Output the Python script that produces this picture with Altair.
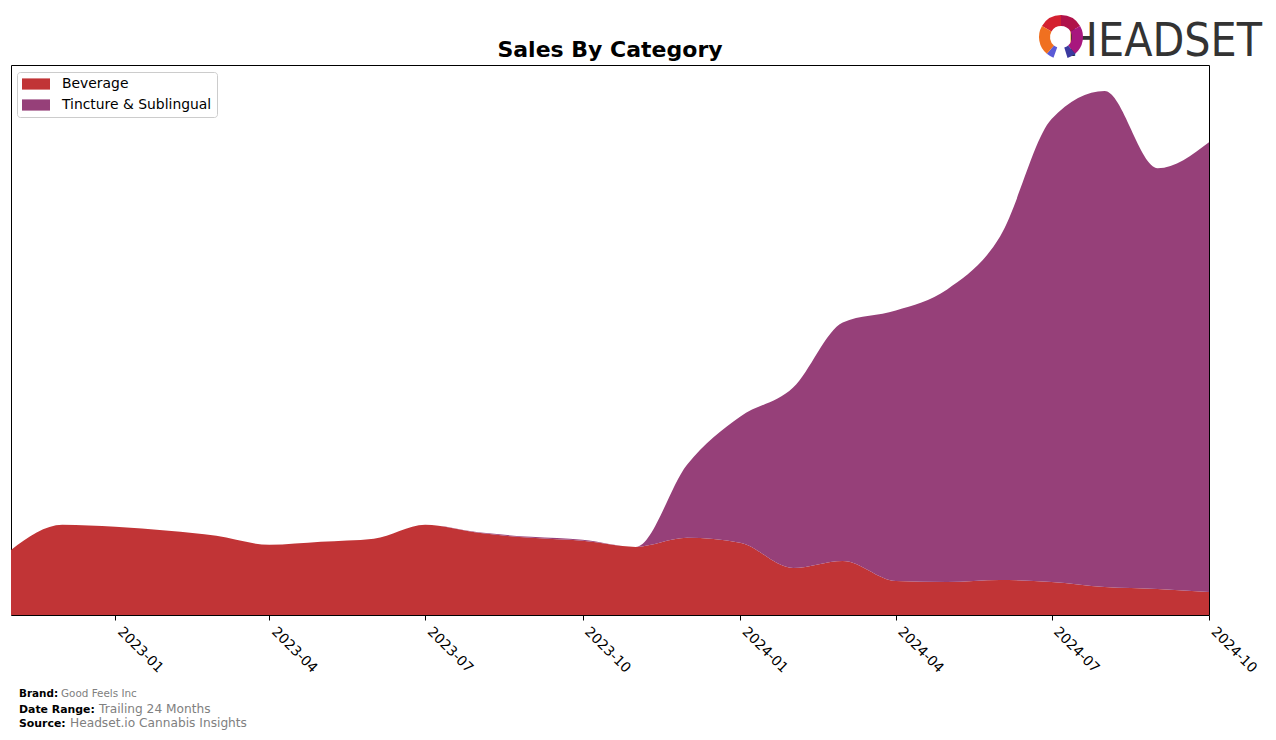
import altair as alt
import pandas as pd

# ---- data ----
months = ["2022-11-01", "2022-12-01", "2023-01-01", "2023-02-01", "2023-03-01", "2023-04-01",
          "2023-05-01", "2023-06-01", "2023-07-01", "2023-08-01", "2023-09-01", "2023-10-01",
          "2023-11-01", "2023-12-01", "2024-01-01", "2024-02-01", "2024-03-01", "2024-04-01",
          "2024-05-01", "2024-06-01", "2024-07-01", "2024-08-01", "2024-09-01", "2024-10-01"]
beverage = [65, 90, 88, 84, 79, 70, 73, 76, 90, 82, 77, 74,
            68, 77, 72, 47, 54, 34, 33, 35, 33, 28, 26, 23]
tincture = [0, 0, 0, 0, 0, 0, 0, 0, 0, 0.5, 1, 1,
            0, 73, 126, 180, 238, 270, 292, 343, 462, 495, 420, 449]
categories = ["Beverage", "Tincture & Sublingual"]
colors = ["#c13436", "#964079"]
tick_dates = ["2023-01", "2023-04", "2023-07", "2023-10", "2024-01", "2024-04", "2024-07", "2024-10"]

rows = []
for i, m in enumerate(months):
    rows.append({"date": m, "category": categories[0], "sales": beverage[i], "order": 0})
    rows.append({"date": m, "category": categories[1], "sales": tincture[i], "order": 1})
df = pd.DataFrame(rows)

W, H = 1198, 550
X0, Y0 = 11, 65  # plot origin in page


def dt(s):
    y, m = s.split("-")[:2]
    return alt.DateTime(year=int(y), month=int(m), date=1, utc=True)


area = alt.Chart(df).mark_area(interpolate="monotone", opacity=1).encode(
    x=alt.X("date:T",
            scale=alt.Scale(type="utc", domain=[dt(months[0]), dt(months[-1])], nice=False),
            axis=alt.Axis(values=[dt(t) for t in tick_dates],
                          labelExpr="utcFormat(datum.value, '%Y-%m')",
                          labelAngle=45, labelAlign="left", labelBaseline="alphabetic",
                          labelFontSize=13.9, labelColor="black", labelFont="DejaVu Sans",
                          tickColor="black", tickSize=5, labelPadding=12, labelOffset=1,
                          domain=False, grid=False, title=None,
                          labelOverlap=False, labelFlush=False, labelBound=False)),
    y=alt.Y("sales:Q", stack="zero", scale=alt.Scale(domain=[0, 549], nice=False, zero=True),
            axis=None),
    color=alt.Color("category:N",
                    scale=alt.Scale(domain=categories, range=colors),
                    legend=alt.Legend(title=None, orient="none", legendX=6, legendY=7,
                                      fillColor="white", strokeColor="#cccccc",
                                      cornerRadius=3, padding=5,
                                      labelFontSize=13.9, labelFont="DejaVu Sans",
                                      labelColor="black", labelOffset=19, symbolOffset=7,
                                      symbolType="M-2,-0.8H2V0.8H-2Z", symbolSize=196,
                                      symbolStrokeWidth=0, symbolOpacity=1, rowPadding=7)),
    order=alt.Order("order:Q"),
)


def text_layer(txt, x, y, size, weight="normal", color="black", align="left", font="DejaVu Sans"):
    return alt.Chart(pd.DataFrame({"t": [txt]})).mark_text(
        align=align, baseline="alphabetic", fontSize=size, fontWeight=weight,
        color=color, font=font
    ).encode(text="t:N", x=alt.value(x - X0), y=alt.value(y - Y0))


title = text_layer("Sales By Category", 610, 57, 22, weight="bold", align="center")
f1a = text_layer("Brand:", 19, 697, 10.4, weight="bold")
f1b = text_layer("Good Feels Inc", 61, 697, 10.4, color="#808080")
f2a = text_layer("Date Range:", 19, 713, 10.9, weight="bold")
f2b = text_layer("Trailing 24 Months", 99, 713, 12.2, color="#808080")
f3a = text_layer("Source:", 19, 727, 10.9, weight="bold")
f3b = text_layer("Headset.io Cannabis Insights", 70, 727, 12.2, color="#808080")
logo_text = text_layer("HEADSET", 1262, 56, 46, color="#333333", align="right",
                       font="Liberation Sans Narrow, DejaVu Sans Condensed, Roboto Condensed, Open Sans Condensed, Liberation Sans")

logo_df = pd.DataFrame({
    "t0": [5.24, 0.0, 1.05, 2.44, 3.49, 3.84],
    "t1": [6.2832, 1.05, 2.44, 2.84, 3.84, 5.24],
    "c": ["#d42030", "#b0124a", "#a8177e", "#3b3aa0", "#5a5ad6", "#f07020"],
})
logo = alt.Chart(logo_df).mark_arc(innerRadius=11, outerRadius=22).encode(
    theta=alt.Theta("t0:Q", scale=None),
    theta2="t1:Q",
    fill=alt.Fill("c:N", scale=None),
    x=alt.value(1061 - X0), y=alt.value(37 - Y0),
)

chart = alt.layer(area, title, f1a, f1b, f2a, f2b, f3a, f3b, logo_text, logo).properties(
    width=W, height=H,
    background="white",
    autosize=alt.AutoSizeParams(type="none"),
    padding={"left": X0, "top": Y0, "right": 1276 - X0 - W, "bottom": 740 - Y0 - H},
).configure_view(stroke="black", strokeWidth=1, strokeOpacity=1)

chart.save("out.html", embed_options={"renderer": "svg", "actions": False})
